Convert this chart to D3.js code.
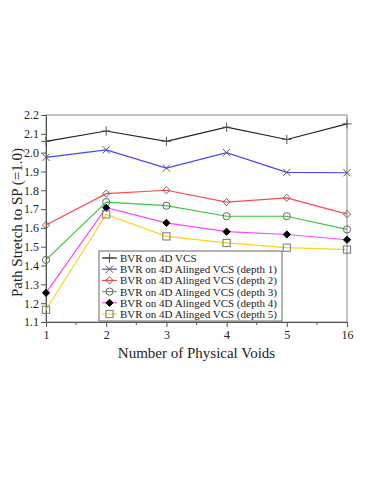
<!DOCTYPE html>
<html>
<head>
<meta charset="utf-8">
<script src="https://cdn.jsdelivr.net/npm/d3@7"></script>
<style>
  body { margin: 0; background: #fff; }
  svg { display: block; font-family: "Liberation Serif", "DejaVu Serif", serif; }
</style>
</head>
<body>
<div id="chart"></div>
<script>
// categories on the x axis
const voids = ['1', '2', '3', '4', '5', '16'];
const yTicks = [1.1, 1.2, 1.3, 1.4, 1.5, 1.6, 1.7, 1.8, 1.9, 2.0, 2.1, 2.2];

// series values
const bvr4d      = [2.06, 2.115, 2.06, 2.135, 2.07, 2.153];
const alignedD1  = [1.975, 2.015, 1.918, 2.0, 1.895, 1.893];
const alignedD2  = [1.615, 1.782, 1.8, 1.737, 1.76, 1.673];
const alignedD3  = [1.43, 1.737, 1.718, 1.662, 1.662, 1.592];
const alignedD4  = [1.255, 1.707, 1.627, 1.58, 1.565, 1.537];
const alignedD5  = [1.165, 1.672, 1.555, 1.52, 1.495, 1.485];

const seriesNames = [
  'BVR on 4D VCS',
  'BVR on 4D Alinged VCS (depth 1)',
  'BVR on 4D Alinged VCS (depth 2)',
  'BVR on 4D Alinged VCS (depth 3)',
  'BVR on 4D Alinged VCS (depth 4)',
  'BVR on 4D Alinged VCS (depth 5)'
];
const seriesValues = [bvr4d, alignedD1, alignedD2, alignedD3, alignedD4, alignedD5];
const seriesColors = ['#222222', '#4545ff', '#ff4848', '#3cc43c', '#ff45ff', '#ffd21e'];
const seriesMarkers = ['plus', 'cross', 'diamond', 'circle', 'fdiamond', 'square'];

const W = 374, H = 484;
const margin = {left: 46, right: 27, top: 115, bottom: 162};
const width = W - margin.left - margin.right,
      height = H - margin.top - margin.bottom;

const svg = d3.select('#chart').append('svg').attr('width', W).attr('height', H);
const g = svg.append('g').attr('transform', `translate(${margin.left},${margin.top})`);

const x = d3.scalePoint().domain(voids).range([0, width]);
const y = d3.scaleLinear().domain([1.1, 2.2]).range([height, 0]);

// frame
g.append('rect').attr('width', width).attr('height', height)
  .attr('fill', 'none').attr('stroke', '#888').attr('stroke-width', 1);

// axes
const xAxis = g.append('g').attr('transform', `translate(0,${height})`)
  .call(d3.axisBottom(x).tickSize(5).tickPadding(3));
const yAxis = g.append('g')
  .call(d3.axisLeft(y).tickValues(yTicks).tickFormat(d3.format('.1f')).tickSize(5).tickPadding(2));

[xAxis, yAxis].forEach(a => {
  a.select('.domain').attr('stroke', '#555');
  a.selectAll('.tick line').attr('stroke', '#555');
  a.selectAll('text').attr('font-size', 12).attr('fill', '#222')
    .attr('font-family', '"Liberation Serif", serif');
});

// minor ticks between categories
const step = x.step();
g.append('g').selectAll('line').data(voids.slice(0, -1)).join('line')
  .attr('x1', d => x(d) + step / 2).attr('x2', d => x(d) + step / 2)
  .attr('y1', height).attr('y2', height + 3).attr('stroke', '#555');

// axis titles
svg.append('text').attr('x', margin.left + width / 2).attr('y', 358)
  .attr('text-anchor', 'middle').attr('font-size', 15).attr('fill', '#222')
  .text('Number of Physical Voids');
svg.append('text')
  .attr('transform', `translate(22,${margin.top + height / 2 + 4}) rotate(-90)`)
  .attr('text-anchor', 'middle').attr('font-size', 15).attr('fill', '#222')
  .text('Path Stretch to SP (=1.0)');

function drawMarker(sel, type, color) {
  const s = 3.6;
  if (type === 'plus') {
    sel.append('path').attr('d', `M${-s-1},0H${s+1}M0,${-s-1}V${s+1}`)
      .attr('stroke', '#555').attr('fill', 'none');
  } else if (type === 'cross') {
    sel.append('path').attr('d', `M${-s},${-s}L${s},${s}M${-s},${s}L${s},${-s}`)
      .attr('stroke', '#555').attr('fill', 'none');
  } else if (type === 'diamond') {
    sel.append('path').attr('d', `M0,${-s}L${s},0L0,${s}L${-s},0Z`)
      .attr('stroke', '#666').attr('fill', 'none');
  } else if (type === 'circle') {
    sel.append('circle').attr('r', s).attr('stroke', '#666').attr('fill', 'none');
  } else if (type === 'fdiamond') {
    sel.append('path').attr('d', `M0,${-s}L${s},0L0,${s}L${-s},0Z`)
      .attr('stroke', '#000').attr('fill', '#000');
  } else if (type === 'square') {
    sel.append('rect').attr('x', -s).attr('y', -s).attr('width', 2 * s).attr('height', 2 * s)
      .attr('stroke', '#777').attr('fill', 'none');
  }
}

const line = d3.line().x((d, i) => x(voids[i])).y(d => y(d));

seriesValues.forEach((vals, k) => {
  g.append('path').datum(vals).attr('d', line)
    .attr('fill', 'none').attr('stroke', seriesColors[k]).attr('stroke-width', 1.2);
  vals.forEach((v, i) => {
    const m = g.append('g').attr('transform', `translate(${x(voids[i])},${y(v)})`);
    drawMarker(m, seriesMarkers[k], seriesColors[k]);
  });
});

// legend
const lg = svg.append('g').attr('transform', 'translate(99,251)');
lg.append('rect').attr('width', 183).attr('height', 70)
  .attr('fill', '#fff').attr('stroke', '#666');
seriesNames.forEach((name, k) => {
  const row = lg.append('g').attr('transform', `translate(0,${7 + k * 11.2})`);
  row.append('line').attr('x1', 3).attr('x2', 18).attr('stroke', seriesColors[k]).attr('stroke-width', 1.2);
  drawMarker(row.append('g').attr('transform', 'translate(10.5,0)'), seriesMarkers[k], seriesColors[k]);
  row.append('text').attr('x', 21).attr('y', 4).attr('font-size', 11).attr('fill', '#222').text(name);
});
</script>
</body>
</html>
